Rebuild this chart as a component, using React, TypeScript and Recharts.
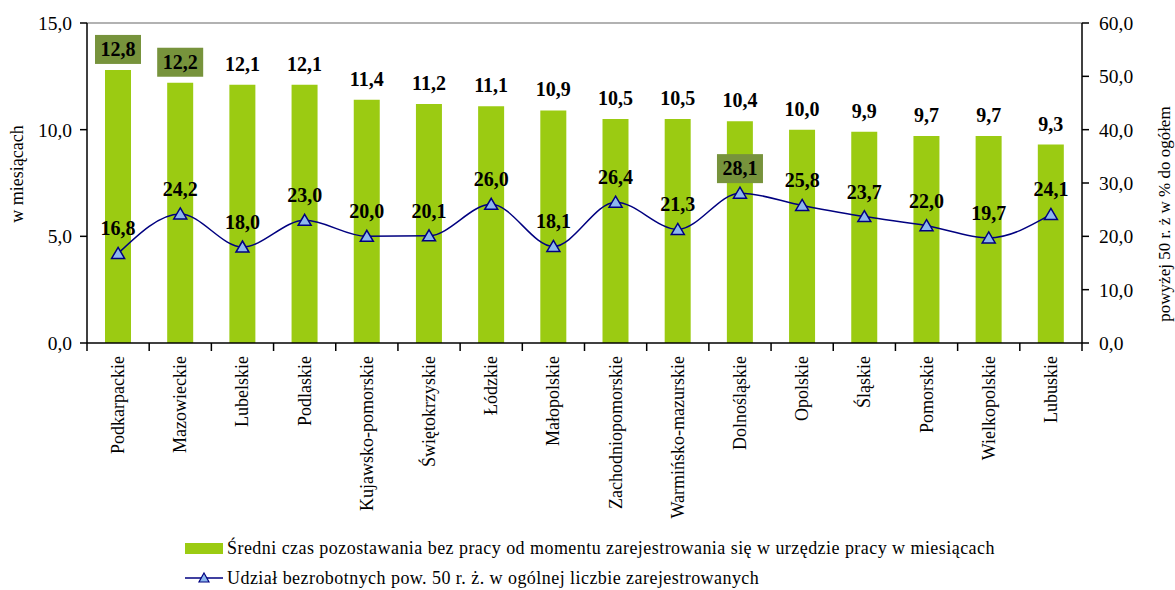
import { ComposedChart, Bar, Line, XAxis, YAxis, LabelList, ReferenceLine } from 'recharts';

const wojewodztwa = [
  'Podkarpackie', 'Mazowieckie', 'Lubelskie', 'Podlaskie', 'Kujawsko-pomorskie',
  'Świętokrzyskie', 'Łódzkie', 'Małopolskie', 'Zachodniopomorskie', 'Warmińsko-mazurskie',
  'Dolnośląskie', 'Opolskie', 'Śląskie', 'Pomorskie', 'Wielkopolskie', 'Lubuskie',
];
const sredniCzas = [12.8, 12.2, 12.1, 12.1, 11.4, 11.2, 11.1, 10.9, 10.5, 10.5, 10.4, 10.0, 9.9, 9.7, 9.7, 9.3];
const udzial50 = [16.8, 24.2, 18.0, 23.0, 20.0, 20.1, 26.0, 18.1, 26.4, 21.3, 28.1, 25.8, 23.7, 22.0, 19.7, 24.1];
const leftTicks = [0, 5, 10, 15];
const rightTicks = [0, 10, 20, 30, 40, 50, 60];
const wyroznioneSlupki = [0, 1];
const wyroznionePunkty = [10];

const dane = wojewodztwa.map((nazwa, i) => ({ nazwa, czas: sredniCzas[i], udzial: udzial50[i] }));

const FONT = "'Liberation Serif', 'Times New Roman', Times, serif";
const GREEN = '#9BCB12';
const BOX = '#77933C';
const NAVY = '#000080';
const fmt = (v: number) => v.toFixed(1).replace('.', ',');

const CategoryTick = ({ x, y, payload, index }: any) => {
  const band = 995 / wojewodztwa.length;
  return (
    <g>
      <line x1={x - band / 2} y1={y - 8} x2={x - band / 2} y2={y} stroke="#000" strokeWidth={1.5} />
      {index === wojewodztwa.length - 1 && (
        <line x1={x + band / 2} y1={y - 8} x2={x + band / 2} y2={y} stroke="#000" strokeWidth={1.5} />
      )}
      <text
        transform={`translate(${x + 6},${y + 5}) rotate(-90)`}
        textAnchor="end"
        style={{ fontFamily: FONT }}
        fontSize={18}
        fill="#000"
      >
        {payload.value}
      </text>
    </g>
  );
};

const BarLabel = ({ x, y, width, value, index }: any) => {
  const cx = x + width / 2;
  const cy = y - 21;
  return (
    <g>
      {wyroznioneSlupki.includes(index) && (
        <rect x={cx - 23} y={cy - 14} width={46} height={29} fill={BOX} />
      )}
      <text x={cx} y={cy} textAnchor="middle" dominantBaseline="central" style={{ fontFamily: FONT }} fontSize={20} fontWeight="bold" fill="#000">
        {fmt(value)}
      </text>
    </g>
  );
};

const LineLabel = ({ x, y, value, index }: any) => {
  const cy = y - 25;
  return (
    <g>
      {wyroznionePunkty.includes(index) && (
        <rect x={x - 23} y={cy - 14} width={46} height={29} fill={BOX} />
      )}
      <text x={x} y={cy} textAnchor="middle" dominantBaseline="central" style={{ fontFamily: FONT }} fontSize={20} fontWeight="bold" fill="#000">
        {fmt(value)}
      </text>
    </g>
  );
};

const Triangle = ({ cx, cy }: any) => {
  if (cx == null || cy == null) return null;
  return (
    <polygon
      points={`${cx},${cy - 6} ${cx + 6.5},${cy + 5} ${cx - 6.5},${cy + 5}`}
      fill="#8DB8EE"
      stroke={NAVY}
      strokeWidth={1.5}
    />
  );
};

const Legenda = () => (
  <div style={{ position: 'absolute', left: 185, top: 533, fontFamily: FONT, fontSize: 18, color: '#000', lineHeight: '30px' }}>
    <div style={{ display: 'flex', alignItems: 'center' }}>
      <span style={{ display: 'inline-block', width: 38, height: 11, background: GREEN, marginRight: 4 }} />
      <span style={{ letterSpacing: 0.45, whiteSpace: 'nowrap' }}>
        Średni czas pozostawania bez pracy od momentu zarejestrowania się w urzędzie pracy w miesiącach
      </span>
    </div>
    <div style={{ display: 'flex', alignItems: 'center' }}>
      <svg width={38} height={14} style={{ marginRight: 4 }}>
        <line x1={0} y1={7} x2={38} y2={7} stroke={NAVY} strokeWidth={1.5} />
        <polygon points="19,2 24,11 14,11" fill="#8DB8EE" stroke={NAVY} strokeWidth={1.2} />
      </svg>
      <span style={{ letterSpacing: 0.45, whiteSpace: 'nowrap' }}>
        Udział bezrobotnych pow. 50 r. ż. w ogólnej liczbie zarejestrowanych
      </span>
    </div>
  </div>
);

export default function App() {
  return (
    <div style={{ position: 'absolute', left: 0, top: 0, width: 1175, height: 590, background: '#fff' }}>
      <ComposedChart
        width={1175}
        height={590}
        data={dane}
        margin={{ top: 23, right: 0, left: 0, bottom: 67 }}
        barCategoryGap={0}
      >
        <XAxis
          dataKey="nazwa"
          interval={0}
          tick={<CategoryTick />}
          tickLine={false}
          axisLine={{ stroke: '#000', strokeWidth: 1.5 }}
          height={180}
        />
        <YAxis
          yAxisId="left"
          domain={[0, 15]}
          ticks={leftTicks}
          tickFormatter={fmt}
          width={87}
          tickSize={7}
          tick={{ fontFamily: FONT, fontSize: 19.5, fill: '#000', dx: -6 }}
          axisLine={{ stroke: '#000', strokeWidth: 1.5 }}
          tickLine={{ stroke: '#000', strokeWidth: 1.5 }}
          label={{
            value: 'w miesiącach',
            angle: -90,
            position: 'insideLeft',
            offset: 17,
            dy: -9,
            style: { fontFamily: FONT, fontSize: 18, fill: '#000', textAnchor: 'middle' },
          }}
        />
        <YAxis
          yAxisId="right"
          orientation="right"
          domain={[0, 60]}
          ticks={rightTicks}
          tickFormatter={fmt}
          width={93}
          tickSize={7}
          tick={{ fontFamily: FONT, fontSize: 19.5, fill: '#000', dx: 8 }}
          axisLine={{ stroke: '#000', strokeWidth: 1.5 }}
          tickLine={{ stroke: '#000', strokeWidth: 1.5 }}
          label={{
            value: 'powyżej 50 r. ż w % do ogółem',
            angle: -90,
            position: 'insideRight',
            offset: 11,
            dy: 31,
            style: { fontFamily: FONT, fontSize: 17, fill: '#000', textAnchor: 'middle' },
          }}
        />
        <ReferenceLine yAxisId="left" y={15} stroke="#999" strokeWidth={1.5} />
        <Bar yAxisId="left" dataKey="czas" fill={GREEN} barSize={26} isAnimationActive={false}>
          <LabelList dataKey="czas" content={<BarLabel />} />
        </Bar>
        <Line
          yAxisId="right"
          type="monotone"
          dataKey="udzial"
          stroke={NAVY}
          strokeWidth={1.5}
          dot={<Triangle />}
          activeDot={false}
          isAnimationActive={false}
        >
          <LabelList dataKey="udzial" content={<LineLabel />} />
        </Line>
      </ComposedChart>
      <Legenda />
    </div>
  );
}
